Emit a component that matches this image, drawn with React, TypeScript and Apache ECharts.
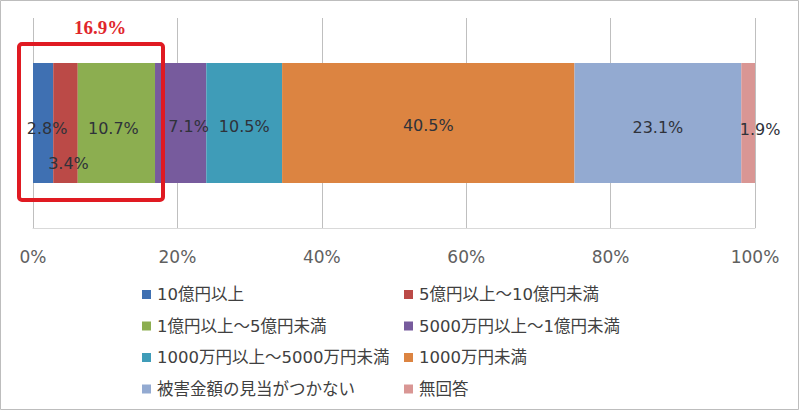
import React, { useEffect, useRef } from "react";
import * as echarts from "echarts";

const categories = ["被害金額"];
const seriesNames = [
  "10億円以上",
  "5億円以上～10億円未満",
  "1億円以上～5億円未満",
  "5000万円以上～1億円未満",
  "1000万円以上～5000万円未満",
  "1000万円未満",
  "被害金額の見当がつかない",
  "無回答",
];
const seriesValues = [2.8, 3.4, 10.7, 7.1, 10.5, 40.5, 23.1, 1.9];
const seriesColors = ["#3f70b2", "#bb4a47", "#8cae50", "#775b9d", "#3f9cb8", "#dc8441", "#93aad1", "#d99694"];
const labelOffsets: number[][] = [[4, 5], [3, 40], [-3, 5], [8, 3], [0, 3], [0, 2], [0, 4], [12, 6]];
const highlightLabel = "16.9%";
const xTicks = { min: 0, max: 100, interval: 20 };

export default function App() {
  const ref = useRef<HTMLDivElement>(null);
  useEffect(() => {
    if (!ref.current) return;
    const chart = echarts.init(ref.current, null, { renderer: "svg" });
    const font = "'DejaVu Sans', Verdana, sans-serif";
    const jp = "'DejaVu Sans', 'Noto Sans CJK JP', sans-serif";
    const series = seriesNames.map((name, i) => ({
      name,
      type: "bar",
      stack: "total",
      data: [seriesValues[i]],
      barWidth: 120,
      itemStyle: { color: seriesColors[i] },
      label: {
        show: true,
        position: "inside",
        offset: labelOffsets[i],
        formatter: (p: any) => p.value.toFixed(1) + "%",
        color: "#2f323a",
        fontSize: 16,
        fontFamily: font,
      },
    }));
    const legendText = {
      color: "#404040",
      fontSize: 16.5,
      fontFamily: jp,
      lineHeight: 17,
      padding: [0, 0, 0, 1],
    };
    chart.setOption({
      animation: false,
      backgroundColor: "#fff",
      grid: { left: 33, right: 45, top: 18, bottom: 183, containLabel: false },
      xAxis: {
        type: "value",
        min: xTicks.min,
        max: xTicks.max,
        interval: xTicks.interval,
        axisLabel: {
          formatter: "{value}%",
          color: "#606060",
          fontSize: 17,
          fontFamily: font,
          margin: 20,
        },
        axisLine: { show: true, lineStyle: { color: "#d9d9d9" } },
        axisTick: { show: false },
        splitLine: { show: true, lineStyle: { color: "#bfbfbf", width: 1 } },
      },
      yAxis: {
        type: "category",
        data: categories,
        axisLabel: { show: false },
        axisTick: { show: false },
        axisLine: { show: false },
      },
      legend: [
        {
          data: [seriesNames[0], seriesNames[2], seriesNames[4], seriesNames[6]],
          orient: "vertical",
          left: 137,
          top: 281,
          itemWidth: 9,
          itemHeight: 9,
          itemGap: 14.5,
          icon: "rect",
          textStyle: legendText,
        },
        {
          data: [seriesNames[1], seriesNames[3], seriesNames[5], seriesNames[7]],
          orient: "vertical",
          left: 399,
          top: 281,
          itemWidth: 9,
          itemHeight: 9,
          itemGap: 14.5,
          icon: "rect",
          textStyle: legendText,
        },
      ],
      graphic: [
        {
          type: "rect",
          shape: { x: 0.5, y: 0.5, width: 798, height: 409 },
          style: { fill: "none", stroke: "#bdbdbd", lineWidth: 1 },
          silent: true,
        },
        {
          type: "rect",
          shape: { x: 19, y: 44, width: 144, height: 156, r: 3 },
          style: { fill: "none", stroke: "#e01a22", lineWidth: 4 },
          z: 100,
        },
        {
          type: "text",
          x: 100,
          y: 27,
          style: {
            text: highlightLabel,
            fill: "#e0262b",
            font: "bold 19px 'Liberation Serif', 'DejaVu Serif', serif",
            align: "center",
            verticalAlign: "middle",
          },
          z: 100,
        },
      ],
      series,
    });
    return () => chart.dispose();
  }, []);
  return <div ref={ref} style={{ position: "absolute", left: 0, top: 0, width: 800, height: 411 }} />;
}
